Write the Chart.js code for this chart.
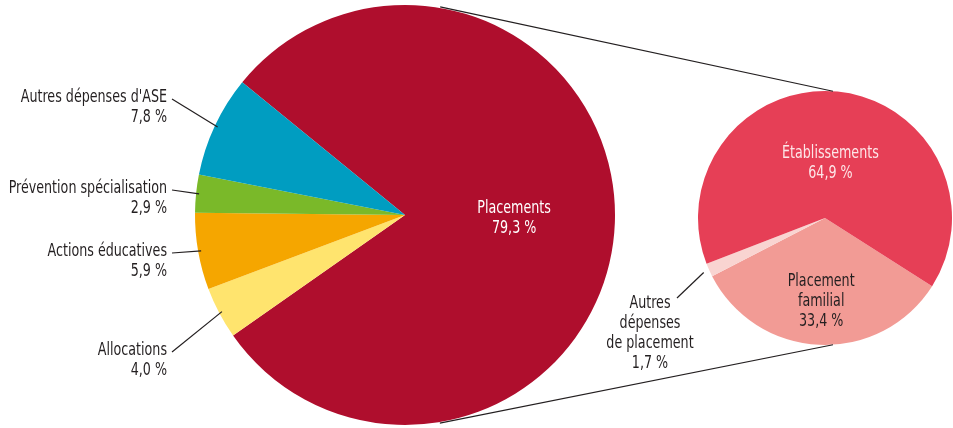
<!DOCTYPE html>
<html>
<head>
<meta charset="utf-8">
<script src="https://cdn.jsdelivr.net/npm/chart.js@4"></script>
<style>
    body { margin: 0; background: #fff; }
    #wrap { position: relative; width: 953px; height: 428px; }
    #wrap canvas { position: absolute; left: 0; top: 0; }
</style>
</head>
<body>
<div id="wrap">
    <canvas id="mainPie" width="953" height="428"></canvas>
    <canvas id="subPie" width="953" height="428"></canvas>
</div>
<script>
// Main pie: ASE expenses
const mainLabels = ['Placements', 'Allocations', 'Actions éducatives', 'Prévention spécialisation', "Autres dépenses d'ASE"];
const mainValues = [79.3, 4.0, 5.9, 2.9, 7.8];
const mainColors = ['#AF0E2D', '#FFE46E', '#F5A600', '#7AB929', '#009DC1'];

// Detail pie: breakdown of placements
const subLabels = ['Placement familial', 'Autres dépenses de placement', 'Établissements'];
const subValues = [33.4, 1.7, 64.9];
const subColors = ['#F29B95', '#F9D4D1', '#E63F56'];

const FONT = "'Liberation Sans Narrow', 'DejaVu Sans Condensed', 'Open Sans', sans-serif";
const TEXT = '#231F20';
const SQUEEZE = 0.83; // condensed look

function pct(v) {
    return v.toFixed(1).replace('.', ',') + ' %';
}

function midAngle(arc) {
    return (arc.startAngle + arc.endAngle) / 2;
}

function arcPoint(arc, angle, r) {
    return { x: arc.x + Math.cos(angle) * r, y: arc.y + Math.sin(angle) * r };
}

function drawText(ctx, lines, x, y, align, color) {
    ctx.save();
    ctx.font = '17px ' + FONT;
    ctx.fillStyle = color;
    ctx.textAlign = align;
    ctx.textBaseline = 'middle';
    ctx.translate(x, y);
    ctx.scale(SQUEEZE, 1);
    lines.forEach((t, i) => ctx.fillText(t, 0, i * 20));
    ctx.restore();
}

function drawLine(ctx, a, b) {
    ctx.save();
    ctx.strokeStyle = '#231F20';
    ctx.lineWidth = 1.2;
    ctx.beginPath();
    ctx.moveTo(a.x, a.y);
    ctx.lineTo(b.x, b.y);
    ctx.stroke();
    ctx.restore();
}

// label layout for the small slices on the left (text block first line y)
const mainOuterY = { 1: 351, 2: 252, 3: 189, 4: 98 };

const mainLabelPlugin = {
    id: 'mainLabels',
    afterDraw(chart) {
        const ctx = chart.ctx;
        const arcs = chart.getDatasetMeta(0).data;
        arcs.forEach((arc, i) => {
            const lines = [mainLabels[i], pct(mainValues[i])];
            if (i === 0) {
                const p = arcPoint(arc, midAngle(arc), arc.outerRadius * 0.52);
                drawText(ctx, lines, p.x, p.y - 10, 'center', '#FFFFFF');
            } else {
                const y = mainOuterY[i];
                drawText(ctx, lines, 167, y, 'right', TEXT);
                const edge = arcPoint(arc, midAngle(arc), arc.outerRadius - 3);
                drawLine(ctx, { x: 172, y: y + 1 }, edge);
            }
        });
    }
};

const subLabelPlugin = {
    id: 'subLabels',
    afterDraw(chart) {
        const ctx = chart.ctx;
        const arcs = chart.getDatasetMeta(0).data;
        const main = Chart.getChart('mainPie').getDatasetMeta(0).data[0];
        const sub = arcs[0];
        // connector lines between the two pies
        const deg = Math.PI / 180;
        drawLine(ctx, arcPoint(main, -80.4 * deg, main.outerRadius + 1), arcPoint(sub, -86.4 * deg, sub.outerRadius));
        drawLine(ctx, arcPoint(main, 80.5 * deg, main.outerRadius + 1), arcPoint(sub, 86.4 * deg, sub.outerRadius));

        // Placement familial
        let p = arcPoint(arcs[0], midAngle(arcs[0]), arcs[0].outerRadius * 0.66);
        drawText(ctx, ['Placement', 'familial', pct(subValues[0])], p.x, p.y - 20, 'center', TEXT);
        // Établissements
        p = arcPoint(arcs[2], midAngle(arcs[2]), arcs[2].outerRadius * 0.43);
        drawText(ctx, [subLabels[2], pct(subValues[2])], p.x, p.y - 10, 'center', '#FDE6E8');
        // Autres dépenses de placement (outside)
        drawText(ctx, ['Autres', 'dépenses', 'de placement', pct(subValues[1])], 650, 304, 'center', TEXT);
        const edge = arcPoint(arcs[1], midAngle(arcs[1]), arcs[1].outerRadius + 6);
        drawLine(ctx, { x: 677, y: 298 }, edge);
    }
};

function pieOptions(rotation, padding) {
    return {
        responsive: false,
        animation: false,
        events: [],
        rotation: rotation,
        layout: { padding: padding },
        plugins: {
            legend: { display: false },
            tooltip: { enabled: false }
        }
    };
}

document.addEventListener('DOMContentLoaded', () => {
    new Chart(document.getElementById('mainPie'), {
        type: 'pie',
        data: {
            labels: mainLabels,
            datasets: [{ data: mainValues, backgroundColor: mainColors, borderWidth: 0 }]
        },
        options: pieOptions(-50.8, { left: 195, right: 338, top: 5, bottom: 3 }),
        plugins: [mainLabelPlugin]
    });

    new Chart(document.getElementById('subPie'), {
        type: 'pie',
        data: {
            labels: subLabels,
            datasets: [{ data: subValues, backgroundColor: subColors, borderWidth: 0 }]
        },
        options: pieOptions(122.5, { left: 698, right: 1, top: 91, bottom: 83 }),
        plugins: [subLabelPlugin]
    });
});
</script>
</body>
</html>
